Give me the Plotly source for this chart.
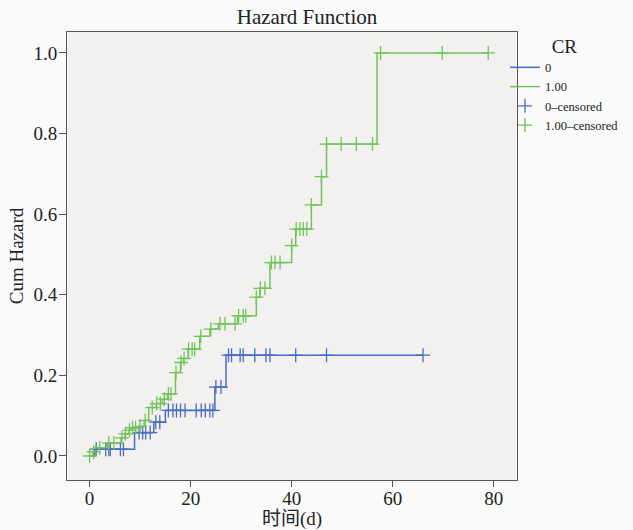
import numpy as np
import plotly.graph_objects as go

# Group CR = 0 : event times and cumulative hazard after each event
blue_t = [0, 1.0, 8.9, 12.7, 15.0, 24.8, 27.0, 66.0]
blue_h = [0, 0.017, 0.058, 0.084, 0.113, 0.171, 0.25, 0.25]
blue_cens = [1.3, 3.2, 3.8, 4.1, 6.1, 6.7, 9.8, 10.5, 11.1, 12.0, 13.1, 13.9,
             15.6, 16.5, 17.2, 18.0, 18.9, 21.1, 22.1, 22.9, 23.8, 24.4,
             25.0, 26.0, 27.5, 28.1, 29.8, 30.4, 32.7, 34.9, 35.7, 40.8, 46.9, 66.0]

# Group CR = 1.00
green_t = [0, 0.6, 1.4, 3.5, 6.2, 7.0, 7.8, 8.4, 9.8, 10.8, 11.7, 13.2, 14.4,
           15.4, 17.0, 18.0, 18.6, 19.5, 21.8, 23.8, 25.5, 29.3, 33.0, 33.7,
           35.7, 40.0, 40.8, 43.9, 45.9, 46.9, 56.9, 79.0]
green_h = [0, 0.01, 0.02, 0.032, 0.045, 0.055, 0.064, 0.07, 0.073, 0.088, 0.12,
           0.13, 0.141, 0.154, 0.207, 0.232, 0.242, 0.265, 0.297, 0.315, 0.328,
           0.348, 0.394, 0.416, 0.48, 0.522, 0.563, 0.623, 0.693, 0.774, 1.0, 1.0]
green_cens = [0, 0.8, 2.0, 3.8, 4.8, 6.4, 7.1, 7.9, 8.5, 9.1, 10.0, 11.0, 12.4,
              13.3, 14.0, 14.8, 15.6, 16.1, 17.1, 18.1, 18.7, 19.6, 20.3, 20.8,
              22.0, 24.0, 25.8, 26.8, 28.8, 29.5, 30.4, 30.9, 33.0, 33.8, 34.7,
              36.0, 36.7, 37.7, 40.0, 40.9, 41.6, 42.3, 43.0, 43.9, 45.9, 46.9,
              49.8, 52.8, 56.0, 57.6, 69.8, 78.9]

x_ticks = [0, 20, 40, 60, 80]
y_ticks = [0.0, 0.2, 0.4, 0.6, 0.8, 1.0]
y_tick_labels = ["0.0", "0.2", "0.4", "0.6", "0.8", "1.0"]

BLUE = "#4a6cc2"
GREEN = "#72c35a"
FONT = "Liberation Serif, Noto Sans CJK SC, serif"
TXT = "#222222"


def level_at(ts, hs, t):
    idx = np.searchsorted(np.array(ts), np.array(t), side="right") - 1
    return np.array(hs)[idx]


fig = go.Figure()
fig.add_trace(go.Scatter(x=blue_t, y=blue_h, mode="lines", line_shape="hv",
                         line=dict(color=BLUE, width=1.5), name="0"))
fig.add_trace(go.Scatter(x=green_t, y=green_h, mode="lines", line_shape="hv",
                         line=dict(color=GREEN, width=1.5), name="1.00"))
fig.add_trace(go.Scatter(x=blue_cens, y=level_at(blue_t, blue_h, blue_cens), mode="markers",
                         marker=dict(symbol="cross-thin", size=10,
                                     line=dict(color=BLUE, width=1.3)),
                         name="0\u2013censored"))
fig.add_trace(go.Scatter(x=green_cens, y=level_at(green_t, green_h, green_cens), mode="markers",
                         marker=dict(symbol="cross-thin", size=10,
                                     line=dict(color=GREEN, width=1.3)),
                         name="1.00\u2013censored"))

W, H = 633, 530
L, R, T, B = 67, 0, 32, 50
plot_right = 517
dom_right = (plot_right - L) / (W - L - R)

fig.update_layout(
    width=W, height=H,
    margin=dict(l=L, r=R, t=T, b=B),
    paper_bgcolor="#fafafa",
    plot_bgcolor="#f2f1f0",
    font=dict(family=FONT, size=16, color=TXT),
    title=dict(text="Hazard Function", xref="container", x=307 / W, xanchor="center",
               yref="container", y=1 - 17 / H, yanchor="middle",
               font=dict(size=21, family=FONT, color=TXT)),
    showlegend=True,
    legend=dict(x=(505 - L) / (W - L - R), xanchor="left", y=1 - (28 - T) / (H - T - B),
                yanchor="top", bgcolor="rgba(0,0,0,0)", tracegroupgap=0, itemwidth=30,
                font=dict(size=12.5, family=FONT, color=TXT),
                title=dict(text="CR", side="top center", font=dict(size=19, family=FONT))),
    xaxis=dict(domain=[0, dom_right], range=[-4.47, 84.6], tickvals=x_ticks,
               ticks="outside", ticklen=6, automargin=False, ticklabelstandoff=-5,
               tickcolor="#555555", showgrid=False, zeroline=False,
               showline=True, linecolor="#555555", linewidth=1, mirror=True,
               title=dict(text="时间(d)", font=dict(size=19, family=FONT), standoff=2),
               tickfont=dict(size=19)),
    yaxis=dict(range=[-0.0596, 1.052], tickvals=y_ticks, ticktext=y_tick_labels,
               ticks="outside", ticklen=7, tickcolor="#555555", showgrid=False,
               automargin=False, ticklabelstandoff=-2,
               zeroline=False, showline=True, linecolor="#555555", linewidth=1, mirror=True,
               title=dict(text="Cum Hazard", font=dict(size=19, family=FONT), standoff=4),
               tickfont=dict(size=19)),
)

fig.write_html("out.html", config={"displayModeBar": False},
               post_script="document.body.style.margin='0';document.body.style.overflow='hidden';")
